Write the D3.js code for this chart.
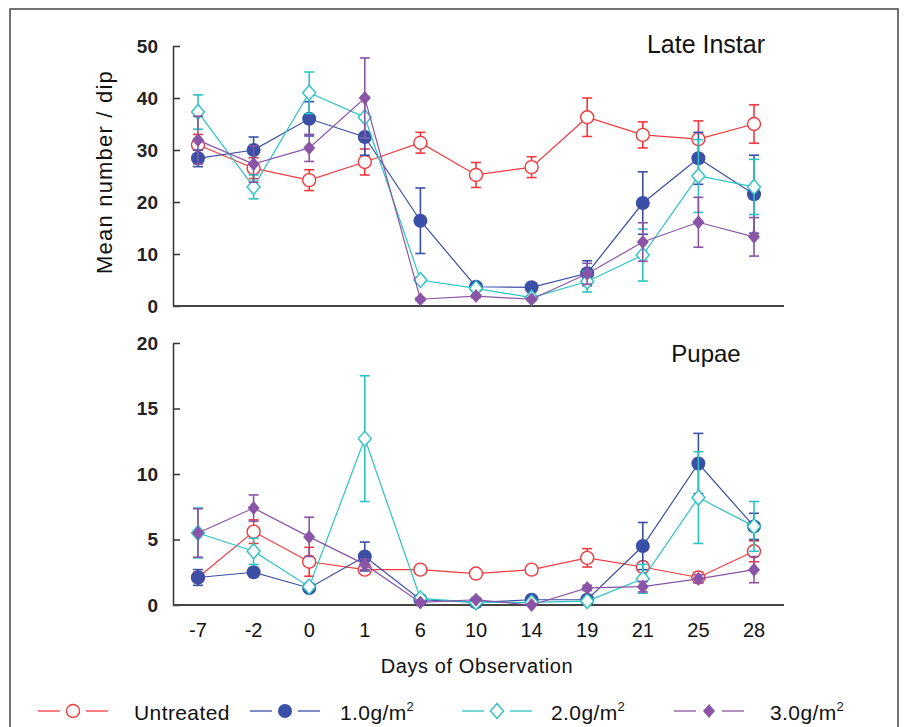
<!DOCTYPE html>
<html>
<head>
<meta charset="utf-8">
<script src="https://cdn.jsdelivr.net/npm/d3@7"></script>
<style>
  body { margin: 0; background: #fff; }
  svg { display: block; font-family: "Liberation Sans", Arial, sans-serif; }
</style>
</head>
<body>
<svg id="chart"></svg>
<script>
// categories (days of observation)
const days = ["-7", "-2", "0", "1", "6", "10", "14", "19", "21", "25", "28"];
const seriesNames = ["Untreated", "1.0g/m", "2.0g/m", "3.0g/m"];

// Late instar: means and error
const lateUntreated = [31, 26.5, 24.2, 27.7, 31.4, 25.2, 26.7, 36.3, 32.9, 32.1, 35];
const lateUntreatedErr = [2, 2, 2, 2.5, 2, 2.4, 2, 3.7, 2.5, 3.5, 3.7];
const late1 = [28.4, 30, 36, 32.5, 16.4, 3.7, 3.6, 6.3, 19.8, 28.4, 21.5];
const late1Err = [1.6, 2.5, 3.3, 3.5, 6.3, 0.5, 0.4, 2.4, 6, 5, 7.5];
const late2 = [37.3, 22.9, 41, 36.3, 5, 3.4, 1.6, 4.7, 9.8, 25, 22.9];
const late2Err = [3.3, 2.3, 4, 4, 0.5, 0.4, 0.3, 2, 5, 7, 5.3];
const late3 = [31.9, 27.3, 30.4, 40, 1.3, 1.9, 1.3, 6.2, 12.3, 16.1, 13.3];
const late3Err = [4.6, 3.5, 2.6, 7.7, 0.3, 0.3, 0.3, 2, 3.7, 4.8, 3.7];

// Pupae: means and error
const pupUntreated = [2.1, 5.6, 3.3, 2.7, 2.7, 2.4, 2.7, 3.6, 2.9, 2.1, 4.1];
const pupUntreatedErr = [0.3, 0.9, 1.1, 0.3, 0.2, 0.2, 0.2, 0.7, 0.3, 0.4, 0.8];
const pup1 = [2.1, 2.5, 1.3, 3.7, 0.4, 0.2, 0.4, 0.4, 4.5, 10.8, 6];
const pup1Err = [0.6, 0.3, 0.2, 1.1, 0.1, 0.1, 0.1, 0.1, 1.8, 2.3, 1];
const pup2 = [5.5, 4.1, 1.4, 12.7, 0.5, 0.2, 0.2, 0.3, 2, 8.2, 6];
const pup2Err = [1.9, 1, 0.2, 4.8, 0.1, 0.1, 0.1, 0.1, 1.1, 3.5, 1.9];
const pup3 = [5.5, 7.4, 5.2, 3.1, 0.2, 0.4, 0, 1.3, 1.4, 2, 2.7];
const pup3Err = [1.85, 1, 1.5, 0.4, 0.1, 0.1, 0.1, 0.2, 0.4, 0.3, 1];

const colors = ["#f03a3f", "#3a4fa5", "#2cc3c3", "#8a55a6"];
const markers = ["openCircle", "circle", "openDiamond", "diamond"];

const width = 910, height = 727;
const svg = d3.select("#chart").attr("width", width).attr("height", height);

// outer frame
svg.append("rect")
  .attr("x", 10).attr("y", 9)
  .attr("width", 888).attr("height", 740)
  .attr("fill", "none").attr("stroke", "#444").attr("stroke-width", 1.5);

const x = d3.scalePoint().domain(days).range([198, 754]);
const axisLeftX = 173, axisRightX = 784;

const panels = [
  { title: "Late Instar", top: 46, bottom: 306, max: 50, step: 10, titleY: 53,
    means: [lateUntreated, late1, late2, late3], errs: [lateUntreatedErr, late1Err, late2Err, late3Err] },
  { title: "Pupae", top: 343, bottom: 605, max: 20, step: 5, titleY: 362,
    means: [pupUntreated, pup1, pup2, pup3], errs: [pupUntreatedErr, pup1Err, pup2Err, pup3Err] }
];

function drawMarker(g, type, color) {
  if (type === "openCircle") {
    g.append("circle").attr("r", 6.5).attr("fill", "#fff").attr("stroke", color).attr("stroke-width", 1.4);
  } else if (type === "circle") {
    g.append("circle").attr("r", 7).attr("fill", color);
  } else if (type === "openDiamond") {
    g.append("path").attr("d", "M0,-7.5L6.5,0L0,7.5L-6.5,0Z")
      .attr("fill", "#fff").attr("stroke", color).attr("stroke-width", 1.4);
  } else {
    g.append("path").attr("d", "M0,-7L6,0L0,7L-6,0Z").attr("fill", color);
  }
}

panels.forEach(p => {
  const y = d3.scaleLinear().domain([0, p.max]).range([p.bottom, p.top]);

  const yAxis = d3.axisLeft(y)
    .tickValues(d3.range(0, p.max + 1, p.step))
    .tickSizeInner(-7).tickSizeOuter(0).tickPadding(15);
  const ag = svg.append("g").attr("transform", `translate(${axisLeftX},0)`).call(yAxis);
  ag.select(".domain").attr("stroke", "#333").attr("stroke-width", 1.5);
  ag.selectAll(".tick line").attr("stroke", "#333").attr("stroke-width", 1.5);
  ag.selectAll(".tick text")
    .attr("font-weight", "bold").attr("fill", "#222")
    .style("font-size", "19px").attr("font-family", "'Liberation Sans', Arial, sans-serif");

  // x baseline
  svg.append("line")
    .attr("x1", axisLeftX).attr("x2", axisRightX)
    .attr("y1", p.bottom).attr("y2", p.bottom)
    .attr("stroke", "#444").attr("stroke-width", 1.8);

  svg.append("text")
    .attr("x", 706).attr("y", p.titleY)
    .attr("text-anchor", "middle")
    .style("font-size", p.max === 50 ? "25px" : "24px").attr("fill", "#111")
    .text(p.title);

  p.means.forEach((vals, s) => {
    const c = colors[s];
    const errs = p.errs[s];
    const g = svg.append("g");

    // connecting line
    g.append("path")
      .datum(vals)
      .attr("fill", "none").attr("stroke", c).attr("stroke-width", 1.2)
      .attr("d", d3.line().x((d, i) => x(days[i])).y(d => y(d)));

    // error bars
    vals.forEach((v, i) => {
      const cx = x(days[i]);
      const lo = Math.max(0, v - errs[i]), hi = v + errs[i];
      const eb = g.append("g").attr("stroke", c).attr("stroke-width", 1.6);
      eb.append("line").attr("x1", cx).attr("x2", cx).attr("y1", y(lo)).attr("y2", y(hi));
      eb.append("line").attr("x1", cx - 5).attr("x2", cx + 5).attr("y1", y(hi)).attr("y2", y(hi));
      eb.append("line").attr("x1", cx - 5).attr("x2", cx + 5).attr("y1", y(lo)).attr("y2", y(lo));
    });

    // markers
    vals.forEach((v, i) => {
      const mg = g.append("g").attr("transform", `translate(${x(days[i])},${y(v)})`);
      drawMarker(mg, markers[s], c);
    });
  });
});

// x tick labels under bottom panel
svg.append("g").selectAll("text")
  .data(days)
  .join("text")
  .attr("x", d => x(d))
  .attr("y", 637)
  .attr("text-anchor", "middle")
  .style("font-size", "20px").attr("fill", "#111")
  .text(d => d);

svg.append("text")
  .attr("x", 477).attr("y", 673)
  .attr("text-anchor", "middle")
  .style("font-size", "20px").style("letter-spacing", "0.6px").attr("fill", "#111")
  .text("Days of Observation");

svg.append("text")
  .attr("transform", "rotate(-90)")
  .attr("x", -172).attr("y", 112)
  .attr("text-anchor", "middle")
  .style("font-size", "22px").style("letter-spacing", "1.2px").attr("fill", "#111")
  .text("Mean number / dip");

// legend
const legendX = [73, 285, 497, 709];
const legendTextX = [134, 340, 551, 770];
const legendY = 711;
seriesNames.forEach((name, s) => {
  const c = colors[s];
  const lg = svg.append("g");
  lg.append("line").attr("x1", legendX[s] - 35).attr("x2", legendX[s] - 13)
    .attr("y1", legendY).attr("y2", legendY).attr("stroke", c).attr("stroke-width", 1.3);
  lg.append("line").attr("x1", legendX[s] + 13).attr("x2", legendX[s] + 35)
    .attr("y1", legendY).attr("y2", legendY).attr("stroke", c).attr("stroke-width", 1.3);
  const mg = lg.append("g").attr("transform", `translate(${legendX[s]},${legendY})`);
  drawMarker(mg, markers[s], c);
  const t = lg.append("text")
    .attr("x", legendTextX[s]).attr("y", legendY + 9)
    .style("font-size", "21px").style("letter-spacing", "0.4px").attr("fill", "#111")
    .text(name);
  if (s > 0) {
    t.append("tspan").attr("dy", -9).style("font-size", "13px").text("2");
  }
});
</script>
</body>
</html>
